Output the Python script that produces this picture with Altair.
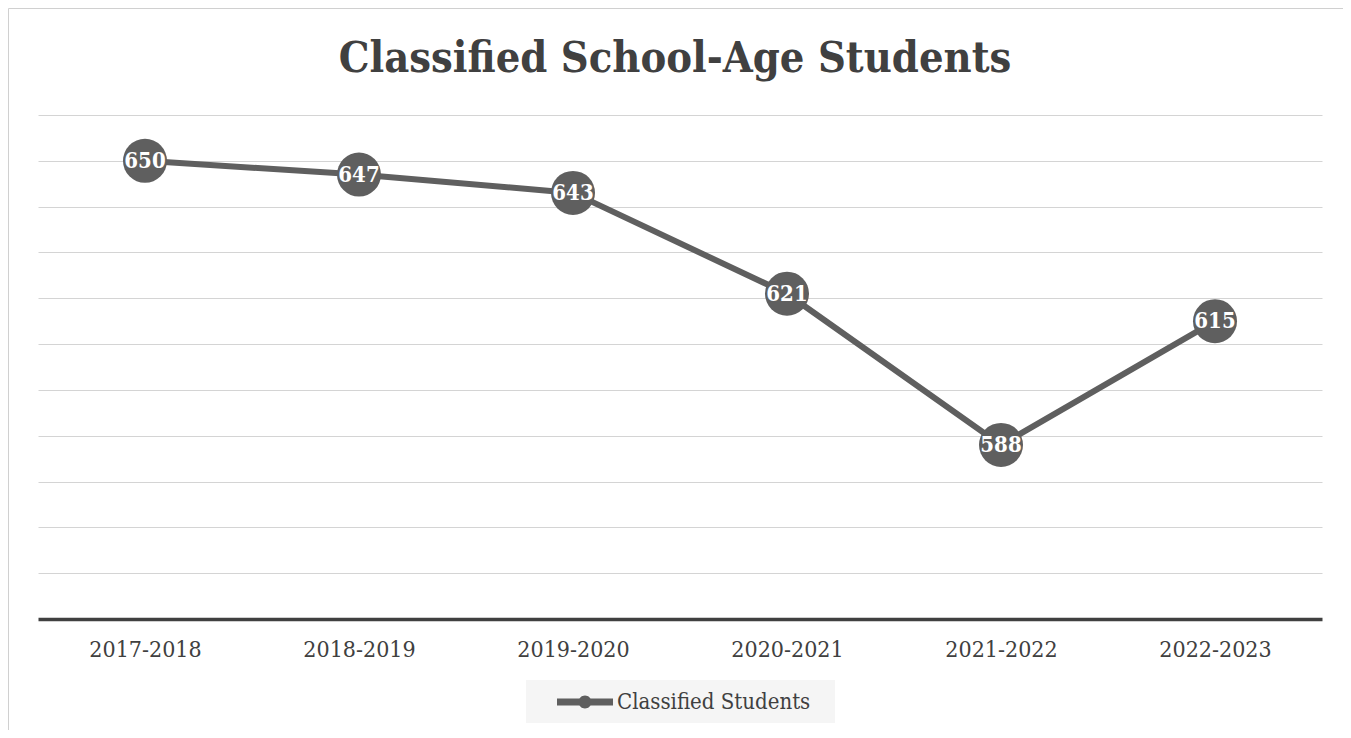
import altair as alt
import pandas as pd

title_text = "Classified School-Age Students"
years = ["2017-2018", "2018-2019", "2019-2020", "2020-2021", "2021-2022", "2022-2023"]
students = [650, 647, 643, 621, 588, 615]
series_name = ["Classified Students"] * len(years)
grid_values = [560, 570, 580, 590, 600, 610, 620, 630, 640, 650, 660]

FONT = "DejaVu Serif Condensed"
GRAY = "#5f5f5f"
DARK = "#404040"

df = pd.DataFrame({"year": years, "students": students, "series": series_name})

x_enc = alt.X("year:N", sort=years,
              scale=alt.Scale(type="point", padding=0.5),
              axis=alt.Axis(title=None, labelAngle=0, ticks=False, labelPadding=19,
                            labelFont=FONT, labelFontSize=23, labelColor=DARK,
                            domainColor=DARK, domainWidth=3.5, grid=False))
y_enc = alt.Y("students:Q",
              scale=alt.Scale(domain=[550, 660], nice=False, zero=False),
              axis=alt.Axis(title=None, values=grid_values, labels=False, ticks=False,
                            domain=False, grid=True, gridColor="#d4d4d4", gridWidth=1))

base = alt.Chart(df)

line = base.mark_line(color=GRAY, strokeWidth=6).encode(x=x_enc, y=y_enc)

legend_path = ("M-1,-0.125 L1,-0.125 L1,0.125 L-1,0.125 Z "
               "M-0.232,0 A0.232,0.232 0 1,1 0.232,0 A0.232,0.232 0 1,1 -0.232,0 Z")

points = base.mark_circle(size=1936, opacity=1).encode(
    x=x_enc, y=y_enc,
    color=alt.Color("series:N", scale=alt.Scale(range=[GRAY]),
                    legend=alt.Legend(title=None, orient="none", legendX=519, legendY=559,
                                      symbolType=legend_path, symbolSize=3136,
                                      symbolStrokeWidth=0, symbolOpacity=1,
                                      labelFont=FONT, labelFontSize=22, labelColor=DARK,
                                      labelOffset=4, padding=0, labelLimit=400)))

labels = base.mark_text(font=FONT, fontSize=22, fontWeight="bold", color="white",
                        align="center", baseline="middle").encode(
    x=x_enc, y=y_enc, text=alt.Text("students:Q"))

one = alt.Chart(pd.DataFrame({"title": [title_text]}))
border = one.mark_rect(fill=None, stroke="#d0d0d0", strokeWidth=1).encode(
    x=alt.value(-29.5), x2=alt.value(1400), y=alt.value(-106.5), y2=alt.value(700))
legend_box = one.mark_rect(fill="#f5f5f5").encode(
    x=alt.value(488), x2=alt.value(797), y=alt.value(565), y2=alt.value(608))
title = one.mark_text(font=FONT, fontSize=43, fontWeight="bold", color=DARK,
                      align="center", baseline="alphabetic").encode(
    x=alt.value(637), y=alt.value(-43), text="title:N")

chart = alt.layer(border, legend_box, title, line, points, labels).properties(
    width=1284, height=504,
    autosize=alt.AutoSizeParams(type="none"),
    padding={"left": 30, "top": 107, "right": 21, "bottom": 111},
).configure(background="white").configure_view(stroke=None)

chart.save("out.html", embed_options={"renderer": "svg", "actions": False})
